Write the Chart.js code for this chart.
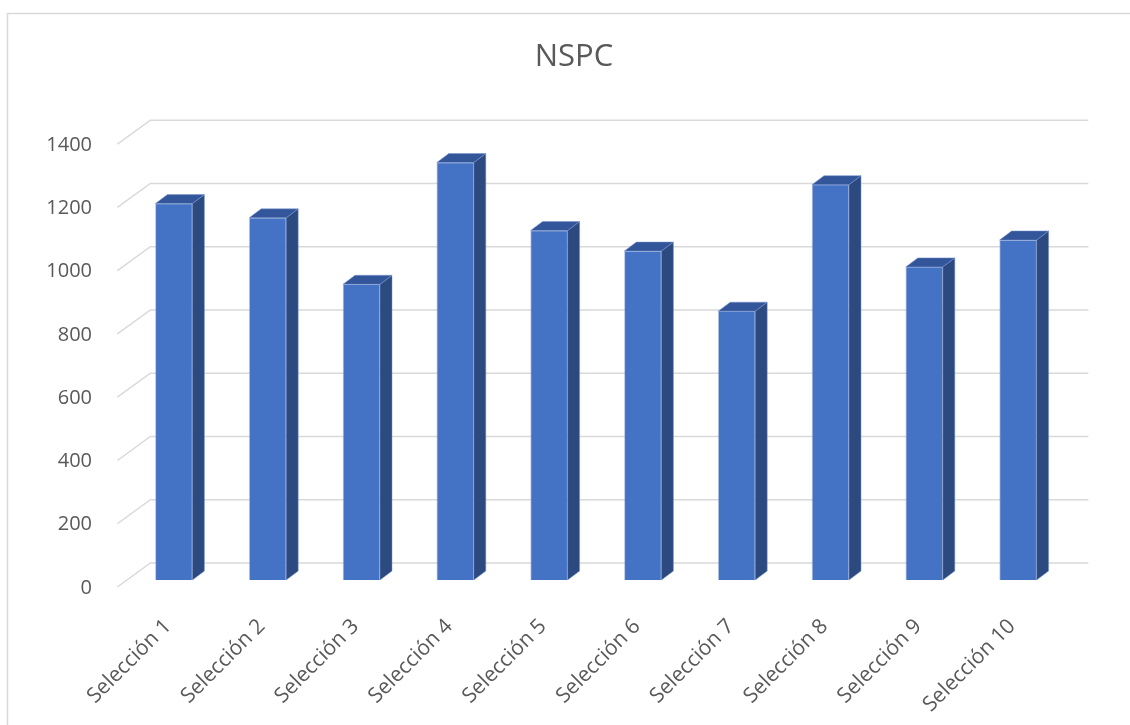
<!DOCTYPE html>
<html>
<head>
<meta charset="utf-8">
<title>NSPC</title>
<script src="https://cdn.jsdelivr.net/npm/chart.js@4/dist/chart.umd.min.js"></script>
<style>
  body { margin: 0; background: #fff; }
  #wrap { width: 1130px; height: 725px; }
</style>
</head>
<body>
<div id="wrap"><canvas id="grafico" width="1130" height="725"></canvas></div>
<script>
// datos del grafico
var titulo = 'NSPC';
var categorias = ['Selección 1', 'Selección 2', 'Selección 3', 'Selección 4', 'Selección 5',
                  'Selección 6', 'Selección 7', 'Selección 8', 'Selección 9', 'Selección 10'];
var valores = [1190, 1145, 935, 1320, 1105, 1040, 850, 1250, 990, 1075];
var ejeY = [0, 200, 400, 600, 800, 1000, 1200, 1400];

var gris = '#595959';
var lineaGris = '#D9D9D9';

// profundidad de la barra y de las paredes (efecto 3D)
var prof = { dx: 12, dy: -9 };
var fondoDy = -17, frenteDy = 7, pendiente = 33 / 24;

// marco exterior del grafico
var marco = {
  id: 'marco',
  beforeDraw: function (chart) {
    var c = chart.ctx;
    c.save();
    c.strokeStyle = lineaGris;
    c.lineWidth = 1.5;
    c.beginPath();
    c.moveTo(7.5, 725);
    c.lineTo(7.5, 13.5);
    c.lineTo(1130, 13.5);
    c.stroke();
    c.restore();
  }
};

// lineas de division en perspectiva (pared del fondo + diagonal izquierda)
var rejilla = {
  id: 'rejilla',
  beforeDatasetsDraw: function (chart) {
    var c = chart.ctx, a = chart.chartArea, y = chart.scales.y;
    c.save();
    c.strokeStyle = lineaGris;
    c.lineWidth = 1.5;
    y.ticks.forEach(function (t) {
      var py = y.getPixelForValue(t.value);
      var xf = a.left + frenteDy * -pendiente;
      var xb = a.left - fondoDy * pendiente;
      c.beginPath();
      c.moveTo(xf, py + frenteDy);
      c.lineTo(xb, py + fondoDy);
      c.lineTo(a.right - fondoDy * pendiente, py + fondoDy);
      c.stroke();
    });
    c.restore();
  }
};

// caras lateral y superior de cada columna
var cubo = {
  id: 'cubo',
  afterDatasetsDraw: function (chart) {
    var c = chart.ctx;
    var meta = chart.getDatasetMeta(0);
    c.save();
    c.lineWidth = 1;
    c.strokeStyle = 'rgba(120,150,210,0.5)';
    meta.data.forEach(function (bar) {
      var w = bar.width / 2;
      var x0 = bar.x - w, x1 = bar.x + w, top = bar.y, base = bar.base;
      // lateral
      c.fillStyle = '#2C4A80';
      c.beginPath();
      c.moveTo(x1, top);
      c.lineTo(x1 + prof.dx, top + prof.dy);
      c.lineTo(x1 + prof.dx, base + prof.dy);
      c.lineTo(x1, base);
      c.closePath();
      c.fill();
      c.stroke();
      // tapa
      c.fillStyle = '#33569A';
      c.beginPath();
      c.moveTo(x0, top);
      c.lineTo(x0 + prof.dx, top + prof.dy);
      c.lineTo(x1 + prof.dx, top + prof.dy);
      c.lineTo(x1, top);
      c.closePath();
      c.fill();
      c.stroke();
    });
    c.restore();
  }
};

var config = {
  type: 'bar',
  data: {
    labels: categorias,
    datasets: [{
      label: titulo,
      data: valores,
      backgroundColor: '#4472C4',
      borderColor: 'rgba(120,150,210,0.5)',
      borderWidth: 1,
      barThickness: 37
    }]
  },
  options: {
    responsive: false,
    animation: false,
    layout: { padding: { left: 18, right: 0, top: 0, bottom: 0 } },
    plugins: {
      legend: { display: false },
      tooltip: { enabled: false },
      title: {
        display: true,
        text: titulo,
        color: gris,
        font: { family: 'Open Sans', size: 31, weight: 'normal' },
        padding: { top: 39, bottom: 61 }
      }
    },
    scales: {
      x: {
        grid: { display: false },
        border: { display: false },
        ticks: {
          color: gris,
          font: { family: 'Open Sans', size: 21 },
          maxRotation: 45,
          minRotation: 45,
          labelOffset: -6,
          padding: 26
        },
        afterFit: function (s) { s.height = 145; }
      },
      y: {
        min: 0,
        max: ejeY[ejeY.length - 1],
        grid: { display: false },
        border: { display: false },
        afterBuildTicks: function (s) {
          s.ticks = ejeY.map(function (v) { return { value: v }; });
        },
        ticks: {
          color: gris,
          font: { family: 'Open Sans', size: 20 },
          labelOffset: 8,
          padding: 27,
          callback: function (v) { return String(v); }
        },
        afterFit: function (s) { s.width = 109; }
      },
      derecha: {
        position: 'right',
        grid: { display: false },
        border: { display: false },
        ticks: { display: false },
        afterFit: function (s) { s.width = 65; }
      }
    }
  },
  plugins: [marco, rejilla, cubo]
};

var ctx = document.getElementById('grafico');
window.grafico = new Chart(ctx, config);
console.log(window.grafico.chartArea);
</script>
</body>
</html>
